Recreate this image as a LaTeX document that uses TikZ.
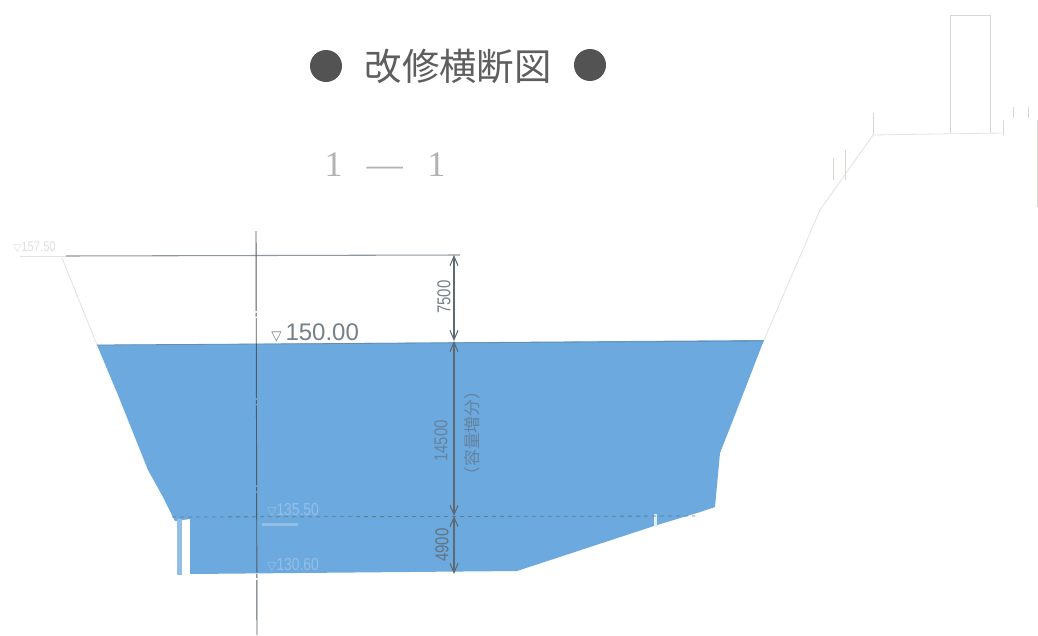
\documentclass[tikz,border=0pt]{standalone}
\usepackage{fontspec}
\setmainfont{Liberation Sans}
\newfontfamily\cjk{Noto Sans CJK JP}
\newfontfamily\symf{DejaVu Sans}
\newfontfamily\serf{Liberation Serif}
\newfontfamily\narrow[FakeStretch=0.8]{Liberation Sans}
\usetikzlibrary{arrows.meta}
\definecolor{water}{HTML}{6CA9DF}
\definecolor{waterpale}{HTML}{93BFE6}
\definecolor{dimc}{HTML}{5E6A72}
\definecolor{titlec}{HTML}{6F6F6F}
\definecolor{paleline}{HTML}{D6D8CF}
\definecolor{slope}{HTML}{E2E3DC}
\tikzset{
 x=0.75pt,y=-0.75pt,
 bullet/.style={circle,fill=#1,minimum size=24pt,inner sep=0pt},
 dimline/.style={draw=dimc,line width=0.8pt,{Straight Barb[length=7pt,width=6pt]}-{Straight Barb[length=7pt,width=6pt]}},
 dimtext/.style={rotate=90,font=\narrow\fontsize{14}{14}\selectfont,text=#1,inner sep=0pt},
 faint/.style={draw=paleline,line width=0.6pt},
 faintslope/.style={draw=slope,line width=0.6pt},
 centerline/.style={draw=dimc!85!black,line width=0.7pt,dash pattern=on 60pt off 1.2pt on 3pt off 1.2pt},
 level/.style={draw=dimc!70,line width=0.8pt}
}
\begin{document}
\begin{tikzpicture}
\useasboundingbox (0,0) rectangle (1038,635);
\fill[white] (0,0) rectangle (1038,635);
% water body
\fill[water] (97,345) -- (764,340) -- (733,420) -- (720,453) -- (715,507) -- (697,513) -- (657,525) -- (517,571) -- (190,574) -- (190,519) -- (175,521) -- (163,497) -- (148,470) -- (118,395) -- cycle;
\fill[waterpale] (177,519) rectangle (182,575);
\fill[white!80!water] (654,514) rectangle (657,527);
\fill[waterpale] (262,523) rectangle (298,526);
% faint slopes and structures
\draw[faintslope] (62,258) -- (97,345);
\draw[faintslope] (20,256) -- (66,256);
\draw[faintslope] (764,340) -- (820,210) -- (873,135) -- (1002,133);
\draw[faint] (950,133) -- (950,15) -- (990,15) -- (990,133);
\draw[faint] (873,135) -- (873,113);
\draw[faint] (845,180) -- (845,150) (833,180) -- (833,158);
\draw[faint] (1003,135) -- (1003,120) (1013,118) -- (1013,107) (1028,118) -- (1028,107);
\draw[faint] (1037,120) -- (1037,207);
% title and section
\node[bullet=titlec!75!black] (bl) at (326,66) {};
\node[bullet=titlec!75!black] (br) at (590,65) {};
\node[text=titlec!85!black,font=\cjk\fontsize{28}{28}\selectfont,inner sep=0pt] (title) at (458,66) {改修横断図};
\node[text=black!30,font=\serf\fontsize{27}{27}\selectfont,inner sep=0pt] (sec) at (385,165) {1\hspace{0.68em}—\hspace{0.68em}1};
% levels
\coordinate (topL) at (66,256);
\coordinate (topR) at (460,255);
\coordinate (wL) at (97,345);
\coordinate (wR) at (764,341);
\coordinate (d1) at (454,255);
\coordinate (d2) at (454,341);
\coordinate (d3) at (454,516);
\coordinate (d4) at (454,574);
\coordinate (cT) at (256,231);
\coordinate (cB) at (257,635);
\coordinate (bL) at (172,517);
\coordinate (bR) at (695,516);
\draw[level] (topL) -- (topR);
\draw[draw=dimc!45!water,line width=0.6pt] (wL) -- (wR);
\draw[draw=dimc!75!water,line width=0.6pt,dashed] (bL) -- (bR);
\draw[centerline] (cT) -- (cB);
\draw[dimline] (d1) -- (d2);
\draw[dimline] (d2) -- (d3);
\draw[dimline] (d3) -- (d4);
% labels
\node[dimtext=dimc!85] (t1) at (444,297) {7500};
\node[dimtext=dimc!60!water] (t2) at (441,441) {14500};
\node[dimtext=dimc!85!water] (t3) at (442,545) {4900};
\node[dimtext=dimc!60!water,font=\cjk\fontsize{12.5}{12.5}\selectfont] (t4) at (472,433) {（容量増分）};
\node[anchor=west,text=dimc!85,font=\fontsize{18}{18}\selectfont,inner sep=0pt] (l1) at (271,333) {{\symf\fontsize{10}{10}\selectfont▽}\hspace{3pt}150.00};
\node[anchor=west,text=black!12,font=\narrow\fontsize{10.5}{10.5}\selectfont,inner sep=0pt] (l2) at (13,247) {{\symf\fontsize{8}{8}\selectfont▽}157.50};
\node[anchor=west,text=waterpale,font=\narrow\fontsize{13}{13}\selectfont,inner sep=0pt] (l3) at (267,510) {{\symf\fontsize{9}{9}\selectfont▽}135.50};
\node[anchor=west,text=waterpale,font=\narrow\fontsize{13}{13}\selectfont,inner sep=0pt] (l4) at (267,565) {{\symf\fontsize{9}{9}\selectfont▽}130.60};
\end{tikzpicture}
\end{document}
